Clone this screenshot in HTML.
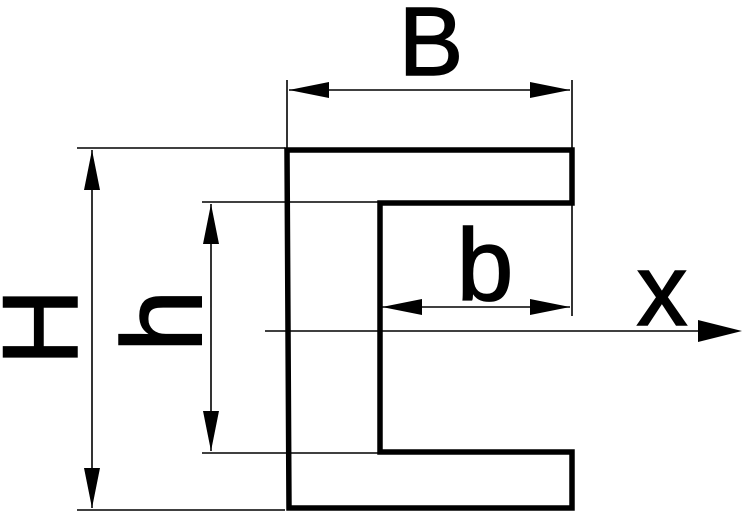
<!DOCTYPE html>
<html><head><style>html,body{margin:0;padding:0;background:#fff;}svg{display:block}</style></head>
<body>
<svg width="745" height="512" viewBox="0 0 745 512" xmlns="http://www.w3.org/2000/svg" font-family="Liberation Sans, sans-serif">
<g stroke="#000" stroke-width="1.6" fill="none">
<line x1="77" y1="148" x2="285" y2="148"/>
<line x1="77" y1="510" x2="285" y2="510"/>
<line x1="92" y1="150" x2="92" y2="508"/>
<line x1="202" y1="202" x2="380" y2="202"/>
<line x1="202" y1="453" x2="380" y2="453"/>
<line x1="211" y1="204" x2="211" y2="451"/>
<line x1="287" y1="80" x2="287" y2="150"/>
<line x1="572" y1="80" x2="572" y2="150"/>
<line x1="572" y1="203" x2="572" y2="316"/>
<line x1="289" y1="90" x2="570" y2="90"/>
<line x1="382" y1="307" x2="570" y2="307"/>
<line x1="265" y1="331" x2="700" y2="331"/>
</g>
<g fill="#000">
<polygon points="92,150 84,190 100,190"/>
<polygon points="92,508 84,468 100,468"/>
<polygon points="211,204 203,244 219,244"/>
<polygon points="211,451 203,411 219,411"/>
<polygon points="289,90 329,82 329,98"/>
<polygon points="570,90 530,82 530,98"/>
<polygon points="382,307 422,299 422,315"/>
<polygon points="570,307 530,299 530,315"/>
<polygon points="742,331 698,320 698,342"/>
</g>
<polygon points="287,150 572,150 572,203 380,203 380,452 572,452 572,508 289,508" fill="none" stroke="#000" stroke-width="5.5"/>
<g fill="#000" stroke="#000" stroke-width="1.5" text-anchor="middle">
<text x="431" y="75" font-size="97">B</text>
<text x="485" y="300" font-size="102">b</text>
<text x="662" y="325" font-size="102">x</text>
<text transform="translate(77,327) rotate(-90)" font-size="107">H</text>
<text transform="translate(201,321) rotate(-90)" font-size="113">h</text>
</g>
</svg>
</body></html>
